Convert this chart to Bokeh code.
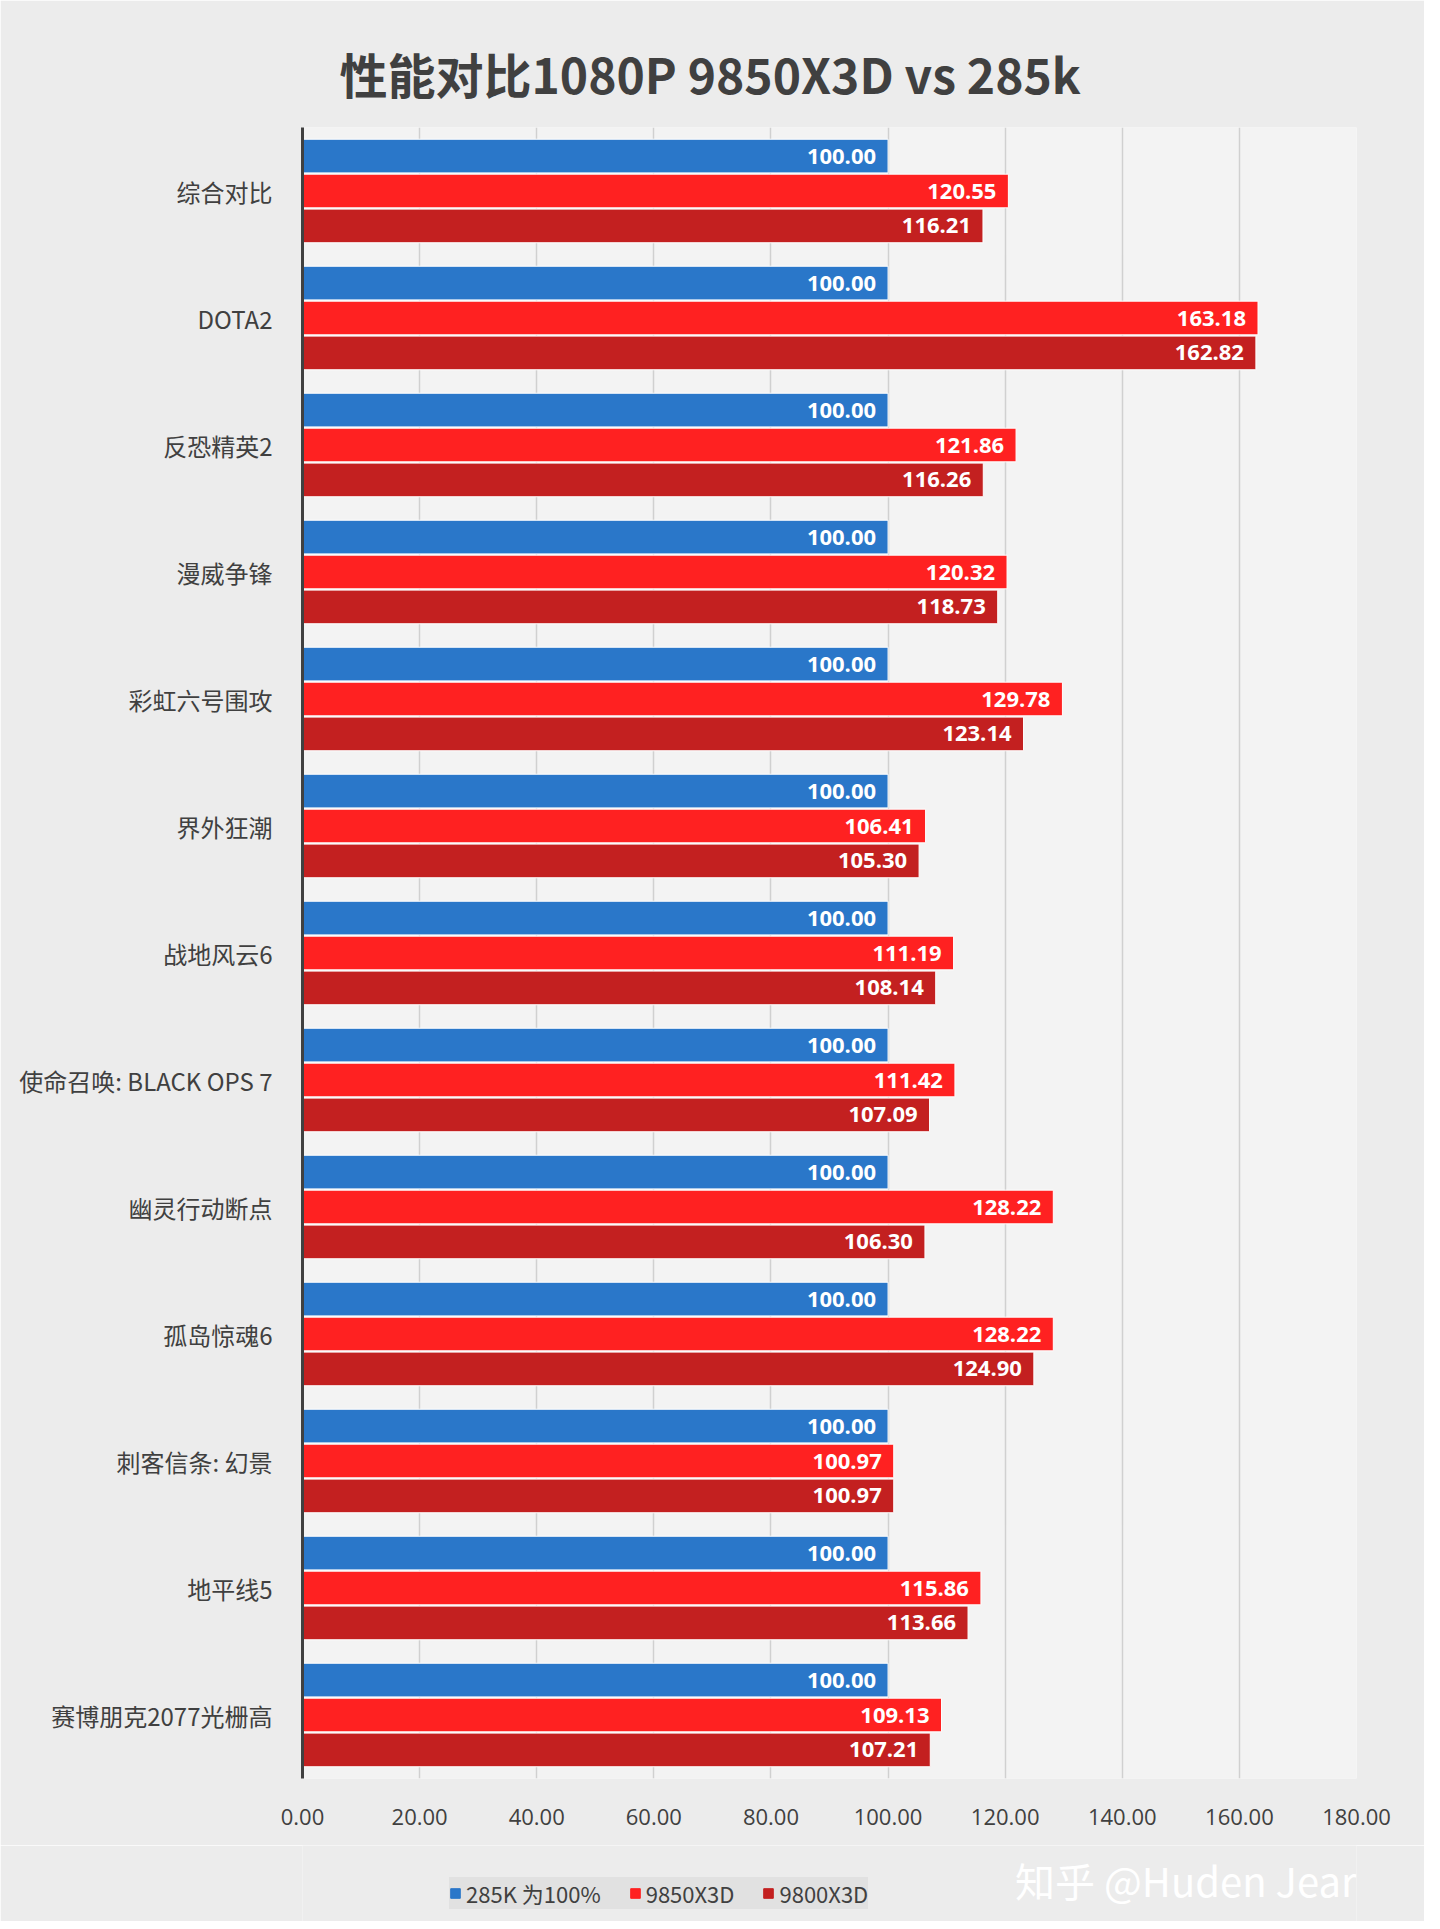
from bokeh.plotting import figure
from bokeh.layouts import column
from bokeh.models import ColumnDataSource, Legend, LegendItem, FixedTicker, NumeralTickFormatter, Title, Range1d
from bokeh.embed import file_html
from bokeh.resources import INLINE
from bokeh.core.properties import value

games = ["综合对比", "DOTA2", "反恐精英2", "漫威争锋", "彩虹六号围攻", "界外狂潮", "战地风云6",
         "使命召唤: BLACK OPS 7", "幽灵行动断点", "孤岛惊魂6", "刺客信条: 幻景", "地平线5", "赛博朋克2077光栅高"]
s285 = [100.00]*13
s9850 = [120.55, 163.18, 121.86, 120.32, 129.78, 106.41, 111.19, 111.42, 128.22, 128.22, 100.97, 115.86, 109.13]
s9800 = [116.21, 162.82, 116.26, 118.73, 123.14, 105.30, 108.14, 107.09, 106.30, 124.90, 100.97, 113.66, 107.21]
series_names = ["285K 为100%", "9850X3D", "9800X3D"]
colors = ["#2a77c9", "#ff2121", "#c32020"]
BG = "#ececec"

n = len(games)
p = figure(width=1424, height=1845, output_backend="svg", toolbar_location=None,
           x_range=Range1d(0, 180), y_range=Range1d(-0.5, n - 0.5),
           min_border_left=302, min_border_right=68, min_border_top=127, min_border_bottom=67,
           background_fill_color="#f3f3f3", border_fill_color=BG, title=None)

t = Title(text="性能对比1080P 9850X3D vs 285k", align="left", offset=37,
          text_font="Noto Sans CJK SC", text_font_size="48px", text_color="#404040",
          text_font_style="bold", standoff=40)
p.add_layout(t, "above")

offsets = [0.275, 0.0, -0.275]
for k, (vals, c) in enumerate(zip([s285, s9850, s9800], colors)):
    ys = [n - 1 - i + offsets[k] for i in range(n)]
    src = ColumnDataSource(dict(y=ys, right=vals, lab=["%.2f" % v for v in vals]))
    p.hbar(y="y", left=0, right="right", height=0.265, source=src, fill_color=c, line_color="white", line_width=1)
    p.text(x="right", y="y", text="lab", source=src, text_align="right", text_baseline="middle",
           x_offset=-12, text_color="white", text_font=value("Open Sans"), text_font_style="bold",
           text_font_size="22px")

p.xaxis.ticker = FixedTicker(ticks=list(range(0, 181, 20)))
p.xaxis.formatter = NumeralTickFormatter(format="0.00")
p.xaxis.axis_line_color = None
p.xaxis.major_tick_line_color = None
p.xaxis.minor_tick_line_color = None
p.xaxis.major_label_text_font_size = "22px"
p.xaxis.major_label_text_color = "#404040"
p.xaxis.major_label_text_font = "Open Sans"
p.xaxis.major_label_standoff = 24

p.yaxis.ticker = FixedTicker(ticks=list(range(n)))
p.yaxis.major_label_overrides = {n - 1 - i: g for i, g in enumerate(games)}
p.yaxis.axis_line_color = "#404040"
p.yaxis.axis_line_width = 3
p.yaxis.major_tick_line_color = None
p.yaxis.minor_tick_line_color = None
p.yaxis.major_label_text_font_size = "24px"
p.yaxis.major_label_text_color = "#404040"
p.yaxis.major_label_text_font = "Noto Sans CJK SC"
p.yaxis.major_label_standoff = 24

p.ygrid.grid_line_color = None
p.xgrid.grid_line_color = "#d0d0d0"
p.xgrid.grid_line_width = 1.5
p.outline_line_color = None

# legend strip (frame aligned with the main frame)
p2 = figure(width=1424, height=76, output_backend="svg", toolbar_location=None,
            x_range=Range1d(0, 1054), y_range=Range1d(0, 76),
            min_border_left=302, min_border_right=68, min_border_top=0, min_border_bottom=0,
            background_fill_color=BG, border_fill_color=BG, outline_line_color=None)
p2.axis.visible = False
p2.grid.visible = False
items = []
for c, nm in zip(colors, series_names):
    r = p2.hbar(y=[-1000], left=[0], right=[1], height=1, fill_color=c, line_color=c)
    items.append(LegendItem(label=nm, renderers=[r]))
leg = Legend(items=items, orientation="horizontal", location=(147, 12),
             background_fill_color="#e0e0e0", border_line_color=None,
             label_text_font_size="22px", label_text_color="#404040", label_text_font="Noto Sans CJK SC",
             glyph_width=12, glyph_height=12, spacing=28, padding=13, margin=0)
p2.add_layout(leg, "center")
p2.text(x=[1054], y=[42], text=["知乎 @Huden Jear"], text_align="right", text_baseline="middle",
        text_font=value("Noto Sans CJK SC"), text_font_size="40px", text_color="white")

layout = column(p, p2, spacing=0)
open("out.html", "w").write(file_html(layout, INLINE))
